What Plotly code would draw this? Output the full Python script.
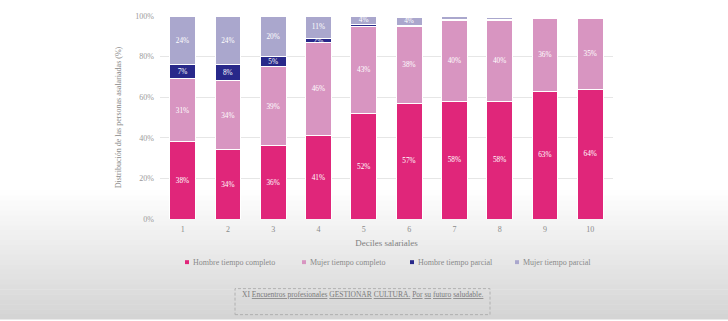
import plotly.graph_objects as go

deciles = ["1", "2", "3", "4", "5", "6", "7", "8", "9", "10"]
hombre_completo = [38, 34, 36, 41, 52, 57, 58, 58, 63, 64]
mujer_completo = [31, 34, 39, 46, 43, 38, 40, 40, 36, 35]
hombre_parcial = [7, 8, 5, 2, 1, 0.5, 0.3, 0.2, 0.1, 0]
mujer_parcial = [24, 24, 20, 11, 4, 4, 1.5, 1, 0.5, 0]
series_names = ["Hombre tiempo completo", "Mujer tiempo completo",
                "Hombre tiempo parcial", "Mujer tiempo parcial"]
colors = ["#e0267a", "#d895c1", "#28288a", "#aaa7cd"]
y_ticks = [0, 20, 40, 60, 80, 100]
y_tick_labels = ["0%", "20%", "40%", "60%", "80%", "100%"]

FONT = "Liberation Serif"
fig = go.Figure()

for name, vals, col in zip(series_names,
                           [hombre_completo, mujer_completo, hombre_parcial, mujer_parcial],
                           colors):
    txt = [f"{round(v)}%" if v >= 2 else "" for v in vals]
    fig.add_trace(go.Bar(
        x=deciles, y=vals, name=name, marker_color=col,
        marker_line=dict(color="white", width=1),
        text=txt, textposition="inside", insidetextanchor="middle",
        textfont=dict(color="white", size=8, family=FONT),
        showlegend=False, hoverinfo="skip"))

W0, H_PLOT, L = 453.0, 207.0, 160.0
def px_x(x):
    return (x - L) / W0
def px_y(y):
    return (219 - y) / H_PLOT

shapes = []
n = 26
top, bot = 190, 321
for i in range(n):
    y0 = top + (bot - top) * i / n
    y1 = top + (bot - top) * (i + 1) / n
    t = (i + 0.5) / n
    g = int(255 - (255 - 212) * t)
    shapes.append(dict(type="rect", xref="paper", yref="paper",
                       x0=px_x(-5), x1=px_x(735), y0=px_y(y1 + 0.5), y1=px_y(y0),
                       fillcolor=f"rgb({g},{g},{g})", line=dict(width=0), layer="below"))
# dashed box
shapes.append(dict(type="rect", xref="paper", yref="paper",
                   x0=px_x(235), x1=px_x(490), y0=px_y(316.5), y1=px_y(290),
                   line=dict(color="#b0b0b0", width=1, dash="3px,2px"), layer="above"))

annotations = []
# custom legend (small square markers next to text)
legend_x = [187, 304, 412, 517]
for name, col, xm in zip(series_names, colors, legend_x):
    shapes.append(dict(type="rect", xref="paper", yref="paper",
                       x0=px_x(xm - 2), x1=px_x(xm + 2), y0=px_y(265), y1=px_y(261),
                       fillcolor=col, line=dict(width=0), layer="above"))
    annotations.append(dict(xref="paper", yref="paper", x=px_x(xm + 3.5), y=px_y(263),
                            xanchor="left", yanchor="middle", text=name, showarrow=False,
                            font=dict(size=8, color="#8a8a8a", family=FONT)))

annotations.append(dict(xref="paper", yref="paper", x=px_x(363), y=px_y(303),
                        text="XI <u>Encuentros profesionales</u> <u>GESTIONAR</u> <u>CULTURA.</u> <u>Por</u> <u>su</u> <u>futuro</u> <u>saludable.</u>",
                        showarrow=False, font=dict(size=7.5, color="#7a7a7a", family=FONT)))

fig.update_layout(
    width=728, height=321,
    margin=dict(l=160, r=115, t=12, b=102),
    paper_bgcolor="white", plot_bgcolor="rgba(0,0,0,0)",
    barmode="stack", bargap=0.43,
    font=dict(family=FONT, color="#8a8a8a", size=8),
    uniformtext=dict(minsize=7, mode="show"),
    shapes=shapes, annotations=annotations, showlegend=False,
    xaxis=dict(title=dict(text="Deciles salariales", font=dict(size=9, color="#808080"), standoff=6),
               tickfont=dict(size=8, color="#8a8a8a"), showgrid=False, ticks="",
               showline=False, range=[-0.5, 9.5], ticklabelstandoff=4),
    yaxis=dict(title=dict(text="Distribución de las personas asalariadas (%)",
                          font=dict(size=8, color="#8a8a8a"), standoff=12),
               range=[0, 100], tickvals=y_ticks, ticktext=y_tick_labels,
               tickfont=dict(size=8, color="#9a9a9a"), ticklabelstandoff=5,
               gridcolor="#e6e6e6", gridwidth=1, zeroline=False, ticklen=0),
)

fig.write_html("out.html")
